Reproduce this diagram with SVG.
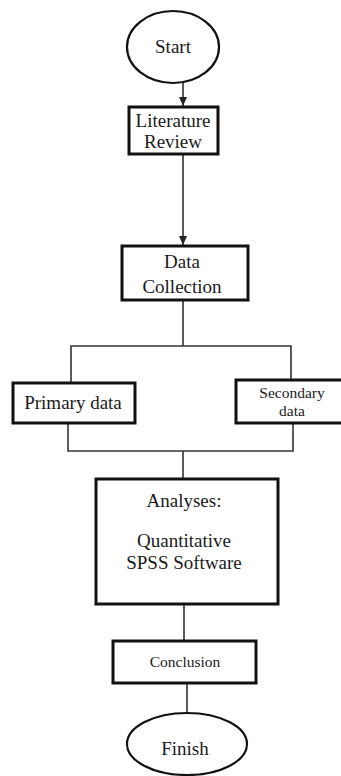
<svg xmlns="http://www.w3.org/2000/svg" width="341" height="776" viewBox="0 0 341 776">
<style>
.box{fill:#fff;stroke:#111;stroke-width:3}
.ell{fill:#fff;stroke:#111;stroke-width:2.2}
.c{fill:none;stroke:#333;stroke-width:1.6}
text{font-family:"Liberation Serif","Times New Roman",serif;fill:#1a1a1a;text-anchor:middle;font-size:19px}
.s{font-size:15.5px}
</style>
<defs>
<marker id="ah" markerWidth="10" markerHeight="10" refX="9" refY="5" orient="auto" markerUnits="userSpaceOnUse">
<path d="M0,1 L9,5 L0,9 Z" fill="#222"/>
</marker>
</defs>
<rect width="341" height="776" fill="#fff"/>
<g id="connectors">
<line class="c" x1="183" y1="83" x2="183" y2="106" marker-end="url(#ah)"/>
<line class="c" x1="183" y1="154" x2="183" y2="245" marker-end="url(#ah)"/>
<polyline class="c" points="183,300 183,346"/>
<polyline class="c" points="71,383 71,346 291,346 291,380"/>
<polyline class="c" points="68,423 68,451 293,451 293,423"/>
<line class="c" x1="183" y1="451" x2="183" y2="478"/>
<line class="c" x1="184" y1="604" x2="184" y2="641"/>
<line class="c" x1="187" y1="683" x2="187" y2="713"/>
</g>
<g id="start">
<ellipse class="ell" cx="173" cy="47" rx="46" ry="36"/>
<text x="173" y="53">Start</text>
</g>
<g id="literature">
<rect class="box" x="129" y="107" width="89" height="47"/>
<text x="173" y="127">Literature</text>
<text x="173" y="148">Review</text>
</g>
<g id="data-collection">
<rect class="box" x="122" y="246" width="126" height="54"/>
<text x="182" y="268">Data</text>
<text x="182" y="293">Collection</text>
</g>
<g id="primary">
<rect class="box" x="13" y="383" width="122" height="40"/>
<text x="73" y="409">Primary data</text>
</g>
<g id="secondary">
<rect class="box" x="236" y="380" width="108" height="43"/>
<text class="s" x="292" y="398">Secondary</text>
<text class="s" x="292" y="416">data</text>
</g>
<g id="analyses">
<rect class="box" x="96" y="479" width="182" height="125"/>
<text x="184" y="507">Analyses:</text>
<text x="184" y="547">Quantitative</text>
<text x="184" y="569">SPSS Software</text>
</g>
<g id="conclusion">
<rect class="box" x="113" y="641" width="143" height="42"/>
<text class="s" x="185" y="667">Conclusion</text>
</g>
<g id="finish">
<ellipse class="ell" cx="187" cy="744" rx="60" ry="31"/>
<text x="185" y="755">Finish</text>
</g>
</svg>
